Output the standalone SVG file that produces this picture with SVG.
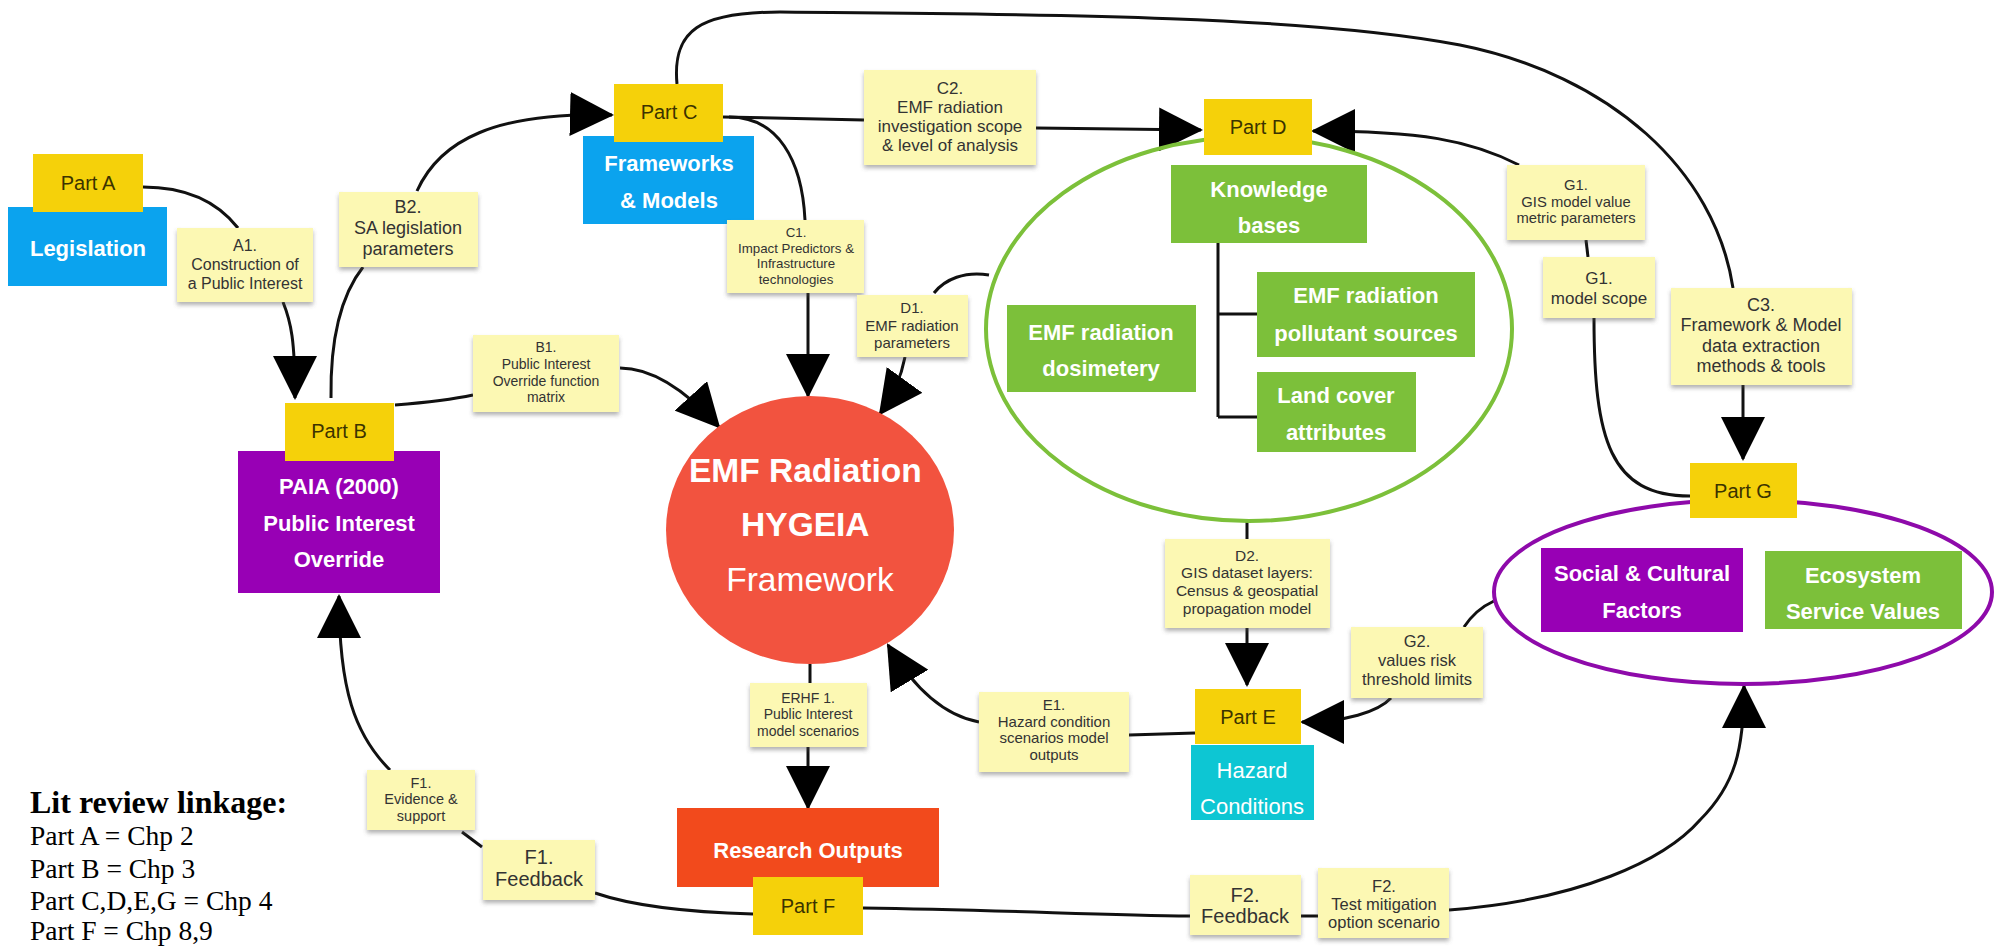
<svg xmlns="http://www.w3.org/2000/svg" width="1994" height="948" viewBox="0 0 1994 948">
  <style>
    .line { fill: none; stroke: #111; stroke-width: 3; }
    .arr { marker-end: url(#head); }
    .part { fill: #F5D10A; }
    .part-t { font-family: "Liberation Sans", Arial, sans-serif; font-size: 20px; fill: #3B3300; text-anchor: middle; }
    .note { fill: #FCF8B3; filter: url(#shadow); }
    .note-t { font-family: "Liberation Sans", Arial, sans-serif; fill: #333; text-anchor: middle; }
    .box-t { font-family: "Liberation Sans", Arial, sans-serif; font-size: 22px; font-weight: bold; fill: #fff; text-anchor: middle; }
    .legend { font-family: "Liberation Serif", "Times New Roman", serif; fill: #000; }
  </style>
  <defs>
    <marker id="head" viewBox="0 0 44 44" markerWidth="44" markerHeight="44" refX="42" refY="22" orient="auto" markerUnits="userSpaceOnUse">
      <path d="M0,0 L44,22 L0,44 z" fill="#000"/>
    </marker>
    <filter id="shadow" x="-10%" y="-10%" width="120%" height="130%">
      <feDropShadow dx="0" dy="3" stdDeviation="2" flood-color="#555" flood-opacity="0.45"/>
    </filter>
  </defs>

  <rect width="1994" height="948" fill="#fff"/>

  <!-- connectors -->
  <g id="connectors">
    <path class="line" d="M143,187 C190,187 220,205 238,228"/>
    <path class="line arr" d="M283,302 C291,322 295,340 295,398"/>
    <path class="line" d="M331,398 C330,330 345,290 363,267"/>
    <path class="line arr" d="M417,191 C440,140 495,112 612,115"/>
    <path class="line" d="M395,405 C420,403 450,400 473,395"/>
    <path class="line arr" d="M620,368 C655,368 690,395 719,427"/>
    <path class="line" d="M723,117 L864,120"/>
    <path class="line" d="M729,117 C778,117 802,160 805,220"/>
    <path class="line arr" d="M808,293 L808,396"/>
    <path class="line" d="M934,293 C945,279 965,271 989,275"/>
    <path class="line arr" d="M905,357 C901,378 893,396 880,414"/>
    <path class="line arr" d="M1036,128 L1201,130"/>
    <path class="line arr" d="M1519,165 C1470,140 1420,131 1313,131"/>
    <path class="line" d="M677,84 C672,30 700,12 780,12 C1000,14 1300,14 1460,45 C1610,75 1715,170 1733,288"/>
    <path class="line" d="M1218,243 L1218,417 M1218,314 L1257,314 M1218,417 L1257,417"/>
    <path class="line" d="M1586,240 L1588,257"/>
    <path class="line" d="M1594,318 C1594,440 1610,496 1690,496"/>
    <path class="line arr" d="M1743,385 L1743,459"/>
    <path class="line" d="M810,664 L810,683"/>
    <path class="line arr" d="M808,747 L808,808"/>
    <path class="line arr" d="M979,722 C946,716 915,690 888,645"/>
    <path class="line" d="M1129,735 L1195,733"/>
    <path class="line" d="M1247,521 L1247,539"/>
    <path class="line arr" d="M1247,628 L1247,685"/>
    <path class="line arr" d="M1391,698 C1378,712 1345,722 1302,722"/>
    <path class="line" d="M1464,627 C1472,615 1483,606 1494,601"/>
    <path class="line" d="M753,914 C680,912 630,905 595,893"/>
    <path class="line" d="M482,847 L462,832"/>
    <path class="line arr" d="M390,770 C355,735 339,690 339,596"/>
    <path class="line" d="M863,908 C1000,910 1100,915 1190,916"/>
    <path class="line" d="M1301,916 L1318,916"/>
    <path class="line arr" d="M1449,910 C1580,900 1665,860 1700,820 C1735,785 1744,750 1744,686"/>
  </g>

  <!-- Part A: legislation -->
  <g id="legislation">
    <rect x="8" y="207" width="159" height="79" fill="#0BA3EE"/>
    <text class="box-t" x="88" y="256">Legislation</text>
  </g>
  <g id="part-a">
    <rect class="part" x="33" y="154" width="110" height="58"/>
    <text class="part-t" x="88" y="190">Part A</text>
  </g>
  <g id="note-a1">
    <rect class="note" x="177" y="228" width="136" height="74"/>
    <text class="note-t" font-size="16" x="245"><tspan x="245" y="251">A1.</tspan><tspan x="245" y="270">Construction of</tspan><tspan x="245" y="289">a Public Interest</tspan></text>
  </g>
  <g id="note-b2">
    <rect class="note" x="339" y="192" width="139" height="75"/>
    <text class="note-t" font-size="18" x="408"><tspan x="408" y="213">B2.</tspan><tspan x="408" y="234">SA legislation</tspan><tspan x="408" y="255">parameters</tspan></text>
  </g>

  <!-- Part B: PAIA -->
  <g id="paia">
    <rect x="238" y="451" width="202" height="142" fill="#9800B5"/>
    <text class="box-t" x="339"><tspan x="339" y="494">PAIA (2000)</tspan><tspan x="339" y="531">Public Interest</tspan><tspan x="339" y="567">Override</tspan></text>
  </g>
  <g id="part-b">
    <rect class="part" x="285" y="403" width="109" height="58"/>
    <text class="part-t" x="339" y="438">Part B</text>
  </g>
  <g id="note-b1">
    <rect class="note" x="473" y="335" width="146" height="77"/>
    <text class="note-t" font-size="14" x="546"><tspan x="546" y="352">B1.</tspan><tspan x="546" y="369">Public Interest</tspan><tspan x="546" y="386">Override function</tspan><tspan x="546" y="402">matrix</tspan></text>
  </g>

  <!-- Part C: frameworks -->
  <g id="frameworks">
    <rect x="583" y="136" width="171" height="88" fill="#0BA3EE"/>
    <text class="box-t" font-size="23" x="669"><tspan x="669" y="171">Frameworks</tspan><tspan x="669" y="208">&amp; Models</tspan></text>
  </g>
  <g id="part-c">
    <rect class="part" x="614" y="84" width="109" height="58"/>
    <text class="part-t" x="669" y="119">Part C</text>
  </g>
  <g id="note-c2">
    <rect class="note" x="864" y="70" width="172" height="95"/>
    <text class="note-t" font-size="17" x="950"><tspan x="950" y="94">C2.</tspan><tspan x="950" y="113">EMF radiation</tspan><tspan x="950" y="132">investigation scope</tspan><tspan x="950" y="151">&amp; level of analysis</tspan></text>
  </g>
  <g id="note-c1">
    <rect class="note" x="727" y="220" width="137" height="73"/>
    <text class="note-t" font-size="13.3" x="796"><tspan x="796" y="237">C1.</tspan><tspan x="796" y="253">Impact Predictors &amp;</tspan><tspan x="796" y="268">Infrastructure</tspan><tspan x="796" y="284">technologies</tspan></text>
  </g>
  <g id="note-d1">
    <rect class="note" x="857" y="295" width="111" height="62"/>
    <text class="note-t" font-size="15" x="912"><tspan x="912" y="313">D1.</tspan><tspan x="912" y="331">EMF radiation</tspan><tspan x="912" y="348">parameters</tspan></text>
  </g>

  <!-- central framework -->
  <g id="hygeia">
    <ellipse cx="810" cy="530" rx="144" ry="134" fill="#F2533F"/>
    <text font-family="Liberation Sans, Arial, sans-serif" fill="#fff" text-anchor="middle" font-size="33.5">
      <tspan x="810" y="482" font-weight="bold">EMF Radiation</tspan>
      <tspan x="810" y="536" font-weight="bold">HYGEIA</tspan>
      <tspan x="810" y="591">Framework</tspan>
    </text>
  </g>

  <!-- Part D: knowledge bases -->
  <g id="part-d-group">
    <ellipse cx="1249" cy="329" rx="263" ry="192" fill="none" stroke="#7CC03A" stroke-width="4"/>
  </g>
  <g id="knowledge-bases">
    <rect x="1171" y="165" width="196" height="78" fill="#7CC03A"/>
    <text class="box-t" x="1269"><tspan x="1269" y="197">Knowledge</tspan><tspan x="1269" y="233">bases</tspan></text>
  </g>
  <g id="pollutant-sources">
    <rect x="1257" y="272" width="218" height="85" fill="#7CC03A"/>
    <text class="box-t" x="1366"><tspan x="1366" y="303">EMF radiation</tspan><tspan x="1366" y="341">pollutant sources</tspan></text>
  </g>
  <g id="land-cover">
    <rect x="1257" y="372" width="159" height="80" fill="#7CC03A"/>
    <text class="box-t" x="1336"><tspan x="1336" y="403">Land cover</tspan><tspan x="1336" y="440">attributes</tspan></text>
  </g>
  <g id="dosimetery">
    <rect x="1007" y="305" width="189" height="87" fill="#7CC03A"/>
    <text class="box-t" x="1101"><tspan x="1101" y="340">EMF radiation</tspan><tspan x="1101" y="376">dosimetery</tspan></text>
  </g>
  <g id="part-d">
    <rect class="part" x="1204" y="99" width="108" height="56"/>
    <text class="part-t" x="1258" y="134">Part D</text>
  </g>

  <!-- Part G notes -->
  <g id="note-g1-gis">
    <rect class="note" x="1507" y="165" width="138" height="75"/>
    <text class="note-t" font-size="14.8" x="1576"><tspan x="1576" y="190">G1.</tspan><tspan x="1576" y="207">GIS model value</tspan><tspan x="1576" y="223">metric parameters</tspan></text>
  </g>
  <g id="note-g1-scope">
    <rect class="note" x="1543" y="257" width="112" height="61"/>
    <text class="note-t" font-size="17" x="1599"><tspan x="1599" y="284">G1.</tspan><tspan x="1599" y="304">model scope</tspan></text>
  </g>
  <g id="note-c3">
    <rect class="note" x="1671" y="288" width="181" height="97"/>
    <text class="note-t" font-size="18" x="1761"><tspan x="1761" y="311">C3.</tspan><tspan x="1761" y="331">Framework &amp; Model</tspan><tspan x="1761" y="352">data extraction</tspan><tspan x="1761" y="372">methods &amp; tools</tspan></text>
  </g>

  <!-- Part G: values -->
  <g id="values-group">
    <ellipse cx="1743" cy="592" rx="249" ry="92" fill="none" stroke="#8E0AAA" stroke-width="4"/>
  </g>
  <g id="social-cultural">
    <rect x="1541" y="548" width="202" height="84" fill="#9800B5"/>
    <text class="box-t" x="1642"><tspan x="1642" y="581">Social &amp; Cultural</tspan><tspan x="1642" y="618">Factors</tspan></text>
  </g>
  <g id="ecosystem">
    <rect x="1765" y="551" width="197" height="78" fill="#7CC03A"/>
    <text class="box-t" x="1863"><tspan x="1863" y="583">Ecosystem</tspan><tspan x="1863" y="619">Service Values</tspan></text>
  </g>
  <g id="part-g">
    <rect class="part" x="1690" y="463" width="107" height="55"/>
    <text class="part-t" x="1743" y="498">Part G</text>
  </g>

  <!-- Part E: hazard conditions -->
  <g id="note-d2">
    <rect class="note" x="1165" y="539" width="165" height="89"/>
    <text class="note-t" font-size="15.5" x="1247"><tspan x="1247" y="561">D2.</tspan><tspan x="1247" y="578">GIS dataset layers:</tspan><tspan x="1247" y="596">Census &amp; geospatial</tspan><tspan x="1247" y="614">propagation model</tspan></text>
  </g>
  <g id="note-g2">
    <rect class="note" x="1351" y="627" width="132" height="71"/>
    <text class="note-t" font-size="16.5" x="1417"><tspan x="1417" y="647">G2.</tspan><tspan x="1417" y="666">values risk</tspan><tspan x="1417" y="685">threshold limits</tspan></text>
  </g>
  <g id="hazard">
    <rect x="1191" y="745" width="123" height="75" fill="#0DC6D3"/>
    <text font-family="Liberation Sans, Arial, sans-serif" font-size="22" fill="#fff" text-anchor="middle"><tspan x="1252" y="778">Hazard</tspan><tspan x="1252" y="814">Conditions</tspan></text>
  </g>
  <g id="part-e">
    <rect class="part" x="1195" y="689" width="106" height="55"/>
    <text class="part-t" x="1248" y="724">Part E</text>
  </g>
  <g id="note-e1">
    <rect class="note" x="979" y="692" width="150" height="80"/>
    <text class="note-t" font-size="15" x="1054"><tspan x="1054" y="710">E1.</tspan><tspan x="1054" y="727">Hazard condition</tspan><tspan x="1054" y="743">scenarios model</tspan><tspan x="1054" y="760">outputs</tspan></text>
  </g>

  <!-- Part F: research outputs -->
  <g id="note-erhf1">
    <rect class="note" x="750" y="683" width="117" height="64"/>
    <text class="note-t" font-size="14" x="808"><tspan x="808" y="703">ERHF 1.</tspan><tspan x="808" y="719">Public Interest</tspan><tspan x="808" y="736">model scenarios</tspan></text>
  </g>
  <g id="research-outputs">
    <rect x="677" y="808" width="262" height="79" fill="#F24A1C"/>
    <text class="box-t" x="808" y="858">Research Outputs</text>
  </g>
  <g id="part-f">
    <rect class="part" x="753" y="877" width="110" height="58"/>
    <text class="part-t" x="808" y="913">Part F</text>
  </g>
  <g id="note-f1-evidence">
    <rect class="note" x="367" y="770" width="108" height="60"/>
    <text class="note-t" font-size="14.5" x="421"><tspan x="421" y="788">F1.</tspan><tspan x="421" y="804">Evidence &amp;</tspan><tspan x="421" y="821">support</tspan></text>
  </g>
  <g id="note-f1-feedback">
    <rect class="note" x="483" y="840" width="112" height="60"/>
    <text class="note-t" font-size="20" x="539"><tspan x="539" y="864">F1.</tspan><tspan x="539" y="886">Feedback</tspan></text>
  </g>
  <g id="note-f2-feedback">
    <rect class="note" x="1190" y="875" width="111" height="60"/>
    <text class="note-t" font-size="20" x="1245"><tspan x="1245" y="902">F2.</tspan><tspan x="1245" y="923">Feedback</tspan></text>
  </g>
  <g id="note-f2-test">
    <rect class="note" x="1318" y="868" width="131" height="70"/>
    <text class="note-t" font-size="16.5" x="1384"><tspan x="1384" y="892">F2.</tspan><tspan x="1384" y="910">Test mitigation</tspan><tspan x="1384" y="928">option scenario</tspan></text>
  </g>

  <!-- chapter key -->
  <g id="lit-review">
    <text class="legend" x="30" y="813" font-size="32" font-weight="bold">Lit review linkage:</text>
    <text class="legend" font-size="27.5">
      <tspan x="30" y="845">Part A = Chp 2</tspan>
      <tspan x="30" y="878">Part B = Chp 3</tspan>
      <tspan x="30" y="910">Part C,D,E,G = Chp 4</tspan>
      <tspan x="30" y="940">Part F = Chp 8,9</tspan>
    </text>
  </g>
</svg>
